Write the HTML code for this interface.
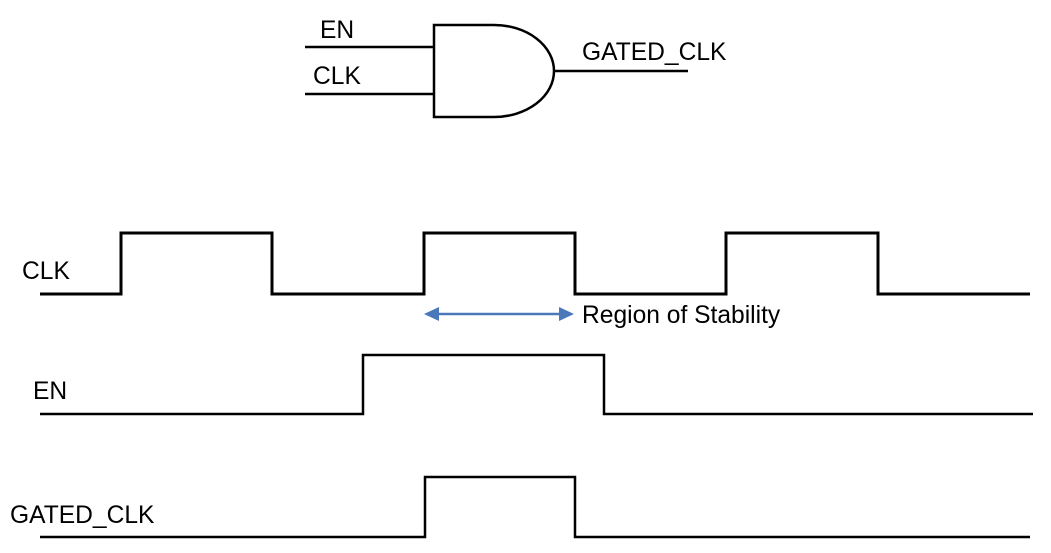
<!DOCTYPE html>
<html><head><style>body{margin:0;background:#fff}svg{display:block}text{font-family:"Liberation Sans",Arial,sans-serif;font-size:24.6px;fill:#000}</style></head>
<body>
<svg width="1051" height="553" viewBox="0 0 1051 553">
<g stroke="#000" stroke-width="2.5" fill="none">
<line x1="305" y1="47" x2="434" y2="47"/>
<line x1="305" y1="94" x2="434" y2="94"/>
<path d="M434 25 L494 25 A60 46 0 0 1 494 117 L434 117 Z"/>
<line x1="554" y1="71" x2="688" y2="71"/>
<polyline stroke-width="3" points="40,294 121,294 121,233 272,233 272,294 424,294 424,233 575,233 575,294 726,294 726,233 878,233 878,294 1030,294"/>
<polyline stroke-width="2.5" points="40,414 363,414 363,355 604,355 604,414 1033,414"/>
<polyline stroke-width="2.5" points="40,537 425,537 425,477 575,477 575,537 1030,537"/>
</g>
<g stroke="#4a78b8" fill="#4a78b8">
<line x1="432" y1="314" x2="566" y2="314" stroke-width="2.5"/>
<polygon points="424,314 439,307 439,321" stroke="none"/>
<polygon points="574,314 559,307 559,321" stroke="none"/>
</g>
<text x="320" y="38">EN</text>
<text x="313" y="84">CLK</text>
<text x="582" y="60">GATED_CLK</text>
<text x="22" y="279">CLK</text>
<text x="33" y="399">EN</text>
<text x="10" y="523">GATED_CLK</text>
<text x="582" y="323">Region of Stability</text>
</svg>
</body></html>
